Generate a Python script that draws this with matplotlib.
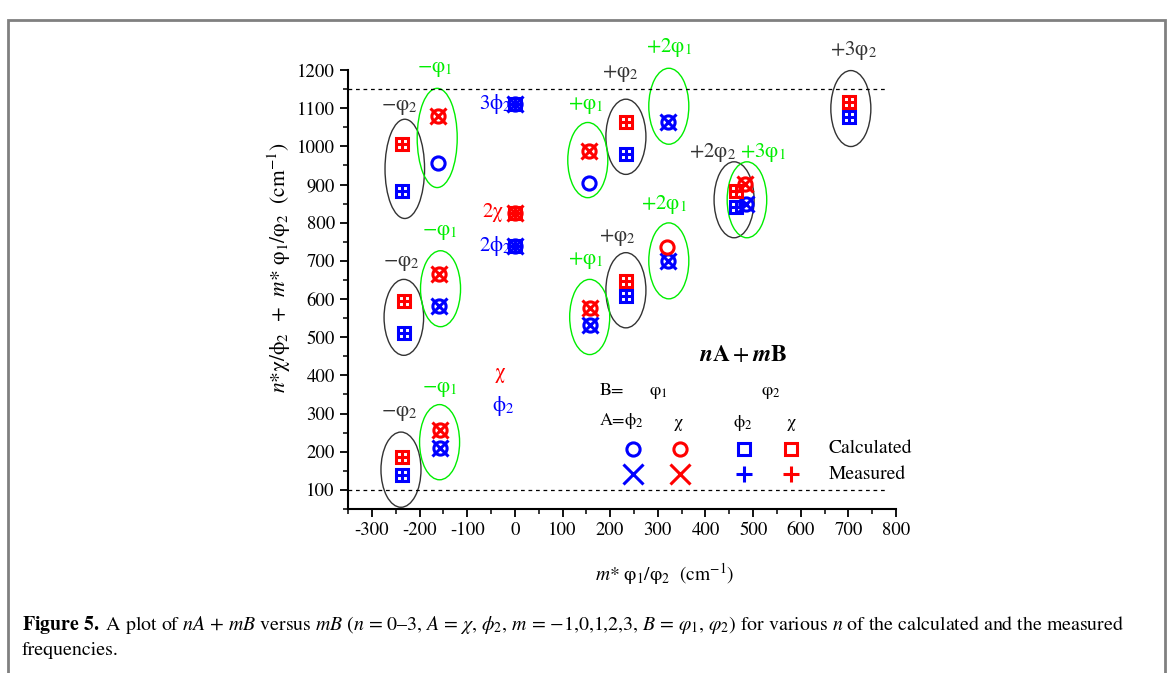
import numpy as np
import matplotlib
matplotlib.use('Agg')
import matplotlib.pyplot as plt
from matplotlib.patches import Ellipse, Rectangle

plt.rcParams['font.family'] = ['STIXGeneral', 'DejaVu Serif']
plt.rcParams['mathtext.fontset'] = 'stix'
plt.rcParams['axes.unicode_minus'] = False

BLUE = '#0000ff'
RED = '#ff0000'
GREEN = '#00ee00'
DARK = '#333333'

# calculated / measured frequencies, x = m*B, y = n*A + m*B (cm^-1)
# B = phi1 (circles / crosses)
phi2_phi1_calc_x = [-162, -160, -158, 0, 0, 155, 158, 322, 322, 485]
phi2_phi1_calc_y = [956, 583, 210, 1111, 739, 905, 533, 1063, 700, 848]
phi2_phi1_meas_x = [-160, -158, 0, 0, 158, 322, 322, 485]
phi2_phi1_meas_y = [583, 210, 1111, 739, 533, 1063, 700, 848]

chi_phi1_calc_x = [-162, -160, -158, 0, 155, 158, 320, 482]
chi_phi1_calc_y = [1080, 665, 258, 826, 988, 577, 735, 901]
chi_phi1_meas_x = [-162, -160, -158, 0, 155, 158, 482]
chi_phi1_meas_y = [1080, 665, 258, 826, 988, 577, 901]

# B = phi2 (squares / plus)
phi2_phi2_calc_x = [-237, -232, -237, 0, 0, 233, 233, 464, 702]
phi2_phi2_calc_y = [883, 512, 140, 1111, 739, 980, 608, 840, 1077]
phi2_phi2_meas_x = phi2_phi2_calc_x
phi2_phi2_meas_y = phi2_phi2_calc_y

chi_phi2_calc_x = [-237, -232, -237, 0, 233, 233, 464, 702]
chi_phi2_calc_y = [1006, 594, 186, 826, 1063, 647, 883, 1116]
chi_phi2_meas_x = chi_phi2_calc_x
chi_phi2_meas_y = chi_phi2_calc_y

# group ellipses (centre x, centre y, width, height)
phi2_groups = [(-231, 941, 83, 260), (233, 1025, 84, 197), (460, 860, 84, 199),
               (705, 1099, 84, 199), (-233, 552, 83, 199), (233, 623, 84, 197),
               (-239, 153, 84, 197)]
phi1_groups = [(-163, 1022, 84, 260), (153, 964, 84, 197), (323, 1105, 84, 199),
               (487, 860, 83, 199), (-156, 627, 84, 199), (157, 553, 84, 197),
               (-158, 225, 84, 197), (323, 700, 84, 199)]

# group labels: text, x, y, colour
group_labels = [
    ('−φ$_2$', -243, 1103, DARK), ('−φ$_1$', -169, 1203, GREEN),
    ('3ϕ$_2$', -42, 1111, BLUE), ('2χ', -46, 828, RED), ('2ϕ$_2$', -42, 739, BLUE),
    ('χ', -32, 407, RED), ('ϕ$_2$', -25, 319, BLUE),
    ('+φ$_1$', 148, 1106, GREEN), ('+φ$_2$', 221, 1190, DARK),
    ('+2φ$_1$', 323, 1259, GREEN), ('+3φ$_2$', 710, 1251, DARK),
    ('+2φ$_2$', 415, 984, DARK), ('+3φ$_1$', 520, 984, GREEN),
    ('+2φ$_1$', 313, 848, GREEN), ('+φ$_2$', 214, 761, DARK),
    ('+φ$_1$', 148, 700, GREEN), ('−φ$_1$', -158, 774, GREEN),
    ('−φ$_2$', -239, 695, DARK), ('−φ$_1$', -158, 363, GREEN),
    ('−φ$_2$', -243, 301, DARK),
]

ref_lines = [1150, 100]

# key inside the plot
key_x = [248, 346, 480, 580]
key_calc_y = 208
key_meas_y = 141

fig = plt.figure(figsize=(11.72, 6.73), dpi=100)
ax = fig.add_axes([0.297, 0.2437, 0.4676, 0.6523])

ms_o, ms_s, ms_x, ms_p = 9.5, 8.5, 12, 10.5
mew = 2.2

def draw(x, y, marker, color, ms):
    ax.plot(x, y, ls='none', marker=marker, ms=ms, mfc='none', mec=color, mew=mew, clip_on=False)

draw(phi2_phi1_calc_x, phi2_phi1_calc_y, 'o', BLUE, ms_o)
draw(phi2_phi1_meas_x, phi2_phi1_meas_y, 'x', BLUE, ms_x)
draw(chi_phi1_calc_x, chi_phi1_calc_y, 'o', RED, ms_o)
draw(chi_phi1_meas_x, chi_phi1_meas_y, 'x', RED, ms_x)
draw(phi2_phi2_calc_x, phi2_phi2_calc_y, 's', BLUE, ms_s)
draw(phi2_phi2_meas_x, phi2_phi2_meas_y, '+', BLUE, ms_p)
draw(chi_phi2_calc_x, chi_phi2_calc_y, 's', RED, ms_s)
draw(chi_phi2_meas_x, chi_phi2_meas_y, '+', RED, ms_p)

for cx, cy, w, h in phi2_groups:
    ax.add_patch(Ellipse((cx, cy), w, h, fill=False, ec=DARK, lw=1.0, clip_on=False))
for cx, cy, w, h in phi1_groups:
    ax.add_patch(Ellipse((cx, cy), w, h, fill=False, ec=GREEN, lw=1.0, clip_on=False))

for txt, x, y, c in group_labels:
    ax.text(x, y, txt, color=c, fontsize=15, ha='center', va='center', clip_on=False)

ax.hlines(ref_lines, -350, 780, colors='black', linestyles=(0, (3, 3)), lw=0.9)

# key
ax.text(480, 453, r'$\mathbfit{n}\mathbf{A} + \mathbfit{m}\mathbf{B}$', fontsize=17,
        ha='center', va='center')
ax.text(204, 360, 'B=', fontsize=13, ha='center', va='center')
ax.text(302, 354, 'φ$_1$', fontsize=13, ha='center', va='center')
ax.text(538, 354, 'φ$_2$', fontsize=13, ha='center', va='center')
ax.text(223, 280, 'A=ϕ$_2$', fontsize=13, ha='center', va='center')
ax.text(343, 276, 'χ', fontsize=13, ha='center', va='center')
ax.text(478, 276, 'ϕ$_2$', fontsize=13, ha='center', va='center')
ax.text(580, 276, 'χ', fontsize=13, ha='center', va='center')
draw(key_x[0], key_calc_y, 'o', BLUE, ms_o)
draw(key_x[1], key_calc_y, 'o', RED, ms_o)
draw(key_x[2], key_calc_y, 's', BLUE, ms_s)
draw(key_x[3], key_calc_y, 's', RED, ms_s)
draw(key_x[0], key_meas_y, 'x', BLUE, ms_x + 2)
draw(key_x[1], key_meas_y, 'x', RED, ms_x + 2)
draw(key_x[2], key_meas_y, '+', BLUE, ms_p + 1)
draw(key_x[3], key_meas_y, '+', RED, ms_p + 1)
ax.text(659, key_calc_y, 'Calculated', fontsize=14, ha='left', va='center')
ax.text(659, key_meas_y, 'Measured', fontsize=14, ha='left', va='center')

ax.set_xlim(-350, 800)
ax.set_ylim(50, 1200)
ax.set_xticks(np.arange(-300, 801, 100))
ax.set_xticks(np.arange(-350, 801, 50), minor=True)
ax.set_yticks(np.arange(100, 1201, 100))
ax.set_yticks(np.arange(50, 1201, 50), minor=True)
ax.spines['top'].set_visible(False)
ax.spines['right'].set_visible(False)
for s in ('left', 'bottom'):
    ax.spines[s].set_linewidth(1.5)
ax.tick_params(which='major', direction='out', length=6, width=1.3, labelsize=13.5)
ax.tick_params(which='minor', direction='out', length=3.5, width=1.1)

ax.set_xlabel(r'$m$* φ$_1$/φ$_2$  (cm$^{-1}$)', fontsize=14)
ax.set_ylabel(r'$n$*χ/ϕ$_2$  +  $m$* φ$_1$/φ$_2$  (cm$^{-1}$)', fontsize=15.5)
ax.xaxis.set_label_coords(0.578, -0.118)
ax.yaxis.set_label_coords(-0.100, 0.55)

# frame and caption
fig.patches.append(Rectangle((8 / 1172, -0.02), 1157 / 1172, 1.005 - 10 / 673, transform=fig.transFigure,
                             fill=False, ec='#808080', lw=2))
fig.text(22 / 1172, 1 - 625 / 673,
         r'$\mathbf{Figure\ 5.}$ A plot of $nA$ + $mB$ versus $mB$ ($n$ = 0–3, $A$ = $\chi$, $\phi_2$, '
         r'$m$ = −1,0,1,2,3, $B$ = $\varphi_1$, $\varphi_2$) for various $n$ of the calculated and the measured',
         fontsize=14.3, ha='left', va='center')
fig.text(22 / 1172, 1 - 650 / 673, 'frequencies.', fontsize=14.3, ha='left', va='center')

fig.savefig('out.png', dpi=100)
